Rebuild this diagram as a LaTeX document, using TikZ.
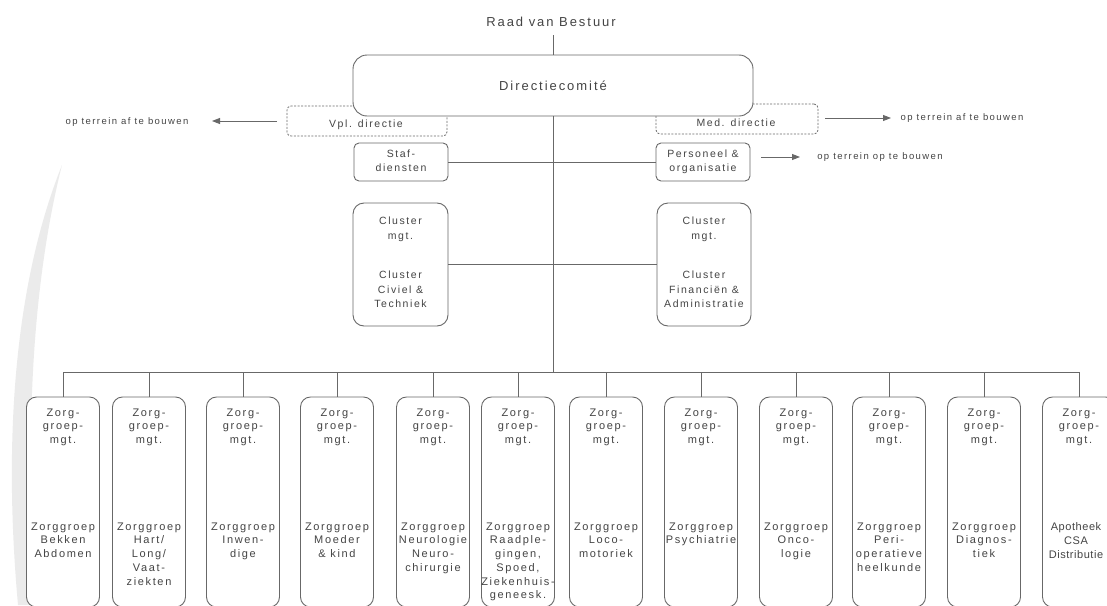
\documentclass[tikz,border=0pt]{standalone}
\usepackage{fontspec}
\setmainfont{Liberation Sans}[LetterSpace=15]
\newfontfamily\tightsans{Liberation Sans}[LetterSpace=5]
\usetikzlibrary{arrows.meta}
\definecolor{lnc}{HTML}{686868}
\definecolor{txc}{HTML}{444444}
\definecolor{wmk}{HTML}{EBEBEB}
\tikzset{
  ln/.style={draw=lnc, line width=0.9pt},
  rbox/.style={ln, rounded corners=#1, fill=white, inner sep=0pt},
  dbox/.style={draw=lnc, line width=0.8pt, dash pattern=on 2pt off 1.5pt, rounded corners=4pt, inner sep=0pt},
  txt/.style={text=txc, inner sep=0pt, align=center},
  bigtxt/.style={txt, font=\fontsize{13}{15}\selectfont},
  smalltxt/.style={txt, font=\fontsize{9.5}{11}\selectfont},
  boxtxt/.style={txt, font=\fontsize{10.5}{14.5}\selectfont},
  zorgtxt/.style={txt, font=\fontsize{11}{13.7}\selectfont},
  arr/.style={draw=lnc, line width=0.9pt, -{Triangle[length=8pt,width=6pt]}},
}
\begin{document}
\begin{tikzpicture}[x=1pt,y=-1pt]
\useasboundingbox (0,0) rectangle (1107,605);
% watermark swoosh
\fill[wmk] (62,165) .. controls (12,290) and (4,450) .. (18,605) -- (36,605) .. controls (26,460) and (28,300) .. (62,165) -- cycle;

% top
\node[bigtxt] (raad) at (551,22) {Raad van Bestuur};
\node[dbox, minimum width=160pt, minimum height=30pt] (vpl) at (367,121) {};
\node[dbox, minimum width=162pt, minimum height=30pt] (med) at (737,119) {};
\node[rbox=14pt, minimum width=400pt, minimum height=61pt] (dc) at (553,85.5) {};
\node[bigtxt] (dct) at (dc.center) {Directiecomit\'e};
\coordinate (raadb) at (553,35);
\draw[ln] (raadb) -- (dc.north);
\node[txt, font=\fontsize{10.5}{12}\selectfont] (vplt) at (366,125) {Vpl. directie};
\node[txt, font=\fontsize{10.5}{12}\selectfont] (medt) at (736,123) {Med. directie};

% side texts and arrows
\node[smalltxt] (lt) at (127,122) {op terrein af te bouwen};
\node[smalltxt] (rt) at (962,118) {op terrein af te bouwen};
\coordinate (a1s) at (277,121);
\coordinate (a1e) at (212,121);
\draw[arr] (a1s) -- (a1e);
\coordinate (a2s) at (825,118);
\coordinate (a2e) at (891,118);
\draw[arr] (a2s) -- (a2e);

% staff
\node[rbox=5pt, minimum width=94pt, minimum height=38pt] (staf) at (401,162) {};
\node[boxtxt, anchor=north, font=\fontsize{10.5}{14}\selectfont] (staft) at (401,150) {Staf-\\diensten};
\node[rbox=5pt, minimum width=94pt, minimum height=38pt] (pers) at (703,162) {};
\node[boxtxt, anchor=north, font=\fontsize{10.5}{14}\selectfont] (perst) at (703,150) {Personeel \&\\organisatie};
\node[smalltxt] (pt) at (880,157) {op terrein op te bouwen};
\coordinate (a3s) at (761,157);
\coordinate (a3e) at (800,157);
\draw[arr] (a3s) -- (a3e);

% spine
\coordinate (busc) at (553,372);
\draw[ln] (dc.south) -- (busc);
\draw[ln] (staf.east) -- (staf.east -| busc);
\draw[ln] (pers.west) -- (pers.west -| busc);

% clusters
\node[rbox=11pt, minimum width=95pt, minimum height=123pt] (cl1) at (400.5,264.5) {};
\node[rbox=11pt, minimum width=94pt, minimum height=123pt] (cl2) at (704,264.5) {};
\draw[ln] (cl1.east) -- (cl2.west);
\node[boxtxt, anchor=north] (cl1a) at (400.5,217) {Cluster\\mgt.};
\node[boxtxt, anchor=north] (cl1b) at (400.5,271) {Cluster\\Civiel \&\\Techniek};
\node[boxtxt, anchor=north] (cl2a) at (704,217) {Cluster\\mgt.};
\node[boxtxt, anchor=north] (cl2b) at (704,271) {Cluster\\Financi\"en \&\\Administratie};

% zorggroepen
\foreach \i/\x/\t in {
  1/63/{Zorggroep\\Bekken\\Abdomen},
  2/149/{Zorggroep\\Hart/\\Long/\\Vaat-\\ziekten},
  3/243/{Zorggroep\\Inwen-\\dige},
  4/337/{Zorggroep\\Moeder\\\& kind},
  5/433/{Zorggroep\\Neurologie\\Neuro-\\chirurgie},
  6/518/{Zorggroep\\Raadple-\\gingen,\\Spoed,\\Ziekenhuis-\\geneesk.},
  7/606/{Zorggroep\\Loco-\\motoriek},
  8/701/{Zorggroep\\Psychiatrie},
  9/796/{Zorggroep\\Onco-\\logie},
  10/889/{Zorggroep\\Peri-\\operatieve\\heelkunde},
  11/984/{Zorggroep\\Diagnos-\\tiek}}{
  \node[rbox=10pt, minimum width=73pt, minimum height=210pt] (z\i) at (\x,502) {};
  \node[zorgtxt, anchor=north] (z\i a) at (\x,408.5) {Zorg-\\groep-\\mgt.};
  \node[zorgtxt, anchor=north] (z\i b) at (\x,522.5) {\t};
  \draw[ln] (z\i.north) -- (z\i.north |- busc);
}
\node[rbox=10pt, minimum width=73pt, minimum height=210pt] (z12) at (1079,502) {};
\node[zorgtxt, anchor=north] (z12a) at (1079,408.5) {Zorg-\\groep-\\mgt.};
\node[zorgtxt, anchor=north, font=\tightsans\fontsize{11}{13.7}\selectfont] (z12b) at (1076,522.5) {Apotheek\\CSA\\Distributie};
\draw[ln] (z12.north) -- (z12.north |- busc);
\draw[ln] (z1.north |- busc) -- (z12.north |- busc);
\end{tikzpicture}
\end{document}
